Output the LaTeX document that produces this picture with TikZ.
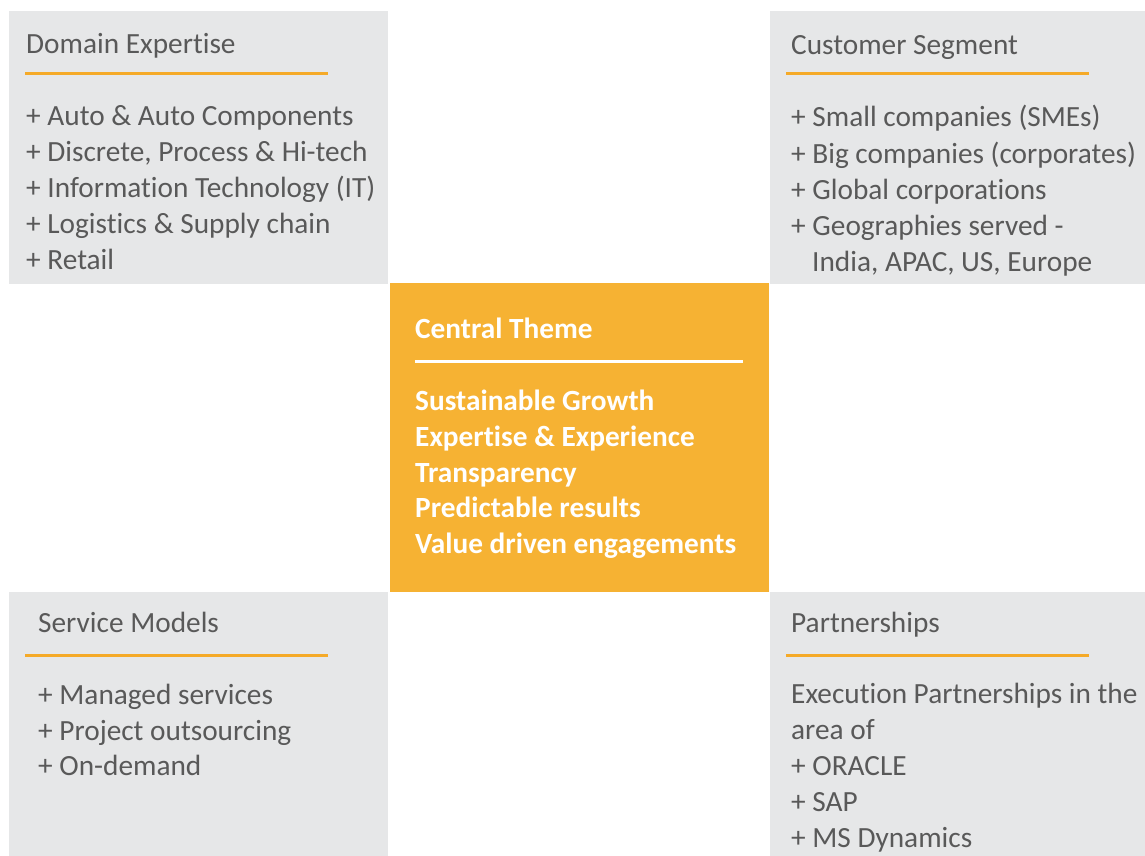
\documentclass[tikz,border=0pt]{standalone}
\usepackage{fontspec}
\setmainfont{Carlito}[Ligatures=NoCommon]
\definecolor{boxgrey}{HTML}{E6E7E8}
\definecolor{themeor}{HTML}{F6B233}
\definecolor{ruleor}{HTML}{F5AA28}
\definecolor{txtgrey}{HTML}{595959}
\newcommand{\txtfont}{\fontsize{29.3}{36}\selectfont}
\begin{document}
\begin{tikzpicture}[x=1pt,y=-1pt,
  greybox/.style={fill=boxgrey, draw=none, anchor=north west, inner sep=0},
  themebox/.style={fill=themeor, draw=none, anchor=north west, inner sep=0},
  line/.style={anchor=base west, inner sep=0, font=\txtfont, text=txtgrey},
  wline/.style={anchor=base west, inner sep=0, font=\txtfont\bfseries, text=white},
  orrule/.style={draw=ruleor, line width=3pt},
  wrule/.style={draw=white, line width=3pt}]
\useasboundingbox (0,0) rectangle (1145,856);
% boxes
\node[greybox, minimum width=379pt, minimum height=273pt] (de) at (9,11) {};
\node[greybox, minimum width=375pt, minimum height=273pt] (cs) at (770,11) {};
\node[themebox, minimum width=379pt, minimum height=309pt] (ct) at (390,283) {};
\node[greybox, minimum width=379pt, minimum height=264pt] (sm) at (9,592) {};
\node[greybox, minimum width=375pt, minimum height=264pt] (pa) at (770,592) {};
% Domain Expertise
\node[line] (de0) at (26,54) {Domain Expertise};
\draw[orrule] (25,74) -- (328,74);
\node[line] (de1) at (26,125) {+ Auto \& Auto Components};
\node[line] (de2) at (26,161) {+ Discrete, Process \& Hi-tech};
\node[line] (de3) at (26,197) {+ Information Technology (IT)};
\node[line] (de4) at (26,233) {+ Logistics \& Supply chain};
\node[line] (de5) at (26,269) {+ Retail};
% Customer Segment
\node[line] (cs0) at (791,55) {Customer Segment};
\draw[orrule] (786,74) -- (1089,74);
\node[line] (cs1) at (791,127) {+ Small companies (SMEs)};
\node[line] (cs2) at (791,163) {+ Big companies (corporates)};
\node[line] (cs3) at (791,199) {+ Global corporations};
\node[line] (cs4) at (791,235) {+ Geographies served -};
\node[line] (cs5) at (812,271) {India, APAC, US, Europe};
% Central Theme
\node[wline] (ct0) at (415,338) {Central Theme};
\draw[wrule] (415,361) -- (743,361);
\node[wline] (ct1) at (415,410) {Sustainable Growth};
\node[wline] (ct2) at (415,446) {Expertise \& Experience};
\node[wline] (ct3) at (415,482) {Transparency};
\node[wline] (ct4) at (415,517) {Predictable results};
\node[wline] (ct5) at (415,553) {Value driven engagements};
% Service Models
\node[line] (sm0) at (38,632) {Service Models};
\draw[orrule] (25,655) -- (328,655);
\node[line] (sm1) at (38,704) {+ Managed services};
\node[line] (sm2) at (38,740) {+ Project outsourcing};
\node[line] (sm3) at (38,775) {+ On-demand};
% Partnerships
\node[line] (pa0) at (791,632) {Partnerships};
\draw[orrule] (786,655) -- (1089,655);
\node[line] (pa1) at (791,703) {Execution Partnerships in the};
\node[line] (pa2) at (791,739) {area of};
\node[line] (pa3) at (791,775) {+ ORACLE};
\node[line] (pa4) at (791,811) {+ SAP};
\node[line] (pa5) at (791,847) {+ MS Dynamics};
\end{tikzpicture}
\end{document}
